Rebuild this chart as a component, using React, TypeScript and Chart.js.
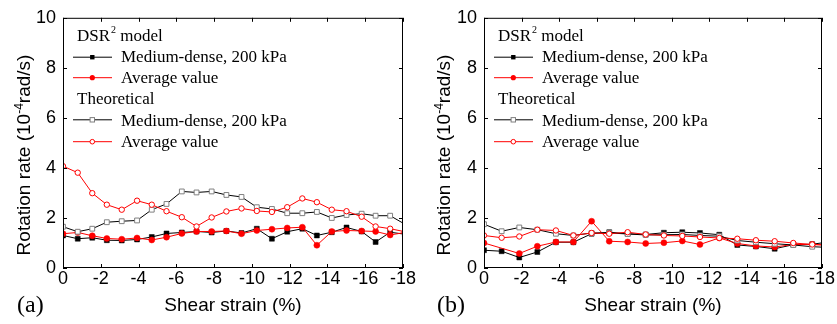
import React, { useEffect, useRef } from 'react';
import { Chart, registerables } from 'chart.js';

Chart.register(...registerables);

// ---- axis ticks ----
const xTickValues = [-18, -16, -14, -12, -10, -8, -6, -4, -2, 0];
const yTickValues = [0, 2, 4, 6, 8, 10];

// ---- panel (a) ----
const strainA = [0, -0.78, -1.55, -2.32, -3.11, -3.92, -4.7, -5.48, -6.29, -7.07, -7.87, -8.65, -9.45, -10.26, -11.06, -11.87, -12.67, -13.44, -14.23, -15.01, -15.81, -16.55, -17.32, -18.1];
const dsrDenseA = [1.3, 1.17, 1.21, 1.11, 1.1, 1.14, 1.24, 1.38, 1.42, 1.46, 1.42, 1.48, 1.4, 1.57, 1.17, 1.45, 1.57, 1.3, 1.43, 1.62, 1.46, 1.04, 1.43, 1.35];
const dsrAvgA = [1.37, 1.42, 1.29, 1.18, 1.15, 1.2, 1.12, 1.23, 1.38, 1.46, 1.46, 1.48, 1.37, 1.5, 1.55, 1.6, 1.63, 0.91, 1.46, 1.5, 1.48, 1.46, 1.32, 1.42];
const theoDenseA = [1.65, 1.45, 1.57, 1.83, 1.87, 1.9, 2.33, 2.56, 3.06, 3.02, 3.06, 2.92, 2.84, 2.43, 2.36, 2.19, 2.19, 2.24, 2.0, 2.12, 2.17, 2.09, 2.09, 1.75];
const theoAvgA = [4.07, 3.81, 2.99, 2.53, 2.33, 2.69, 2.53, 2.27, 2.03, 1.66, 2.02, 2.26, 2.38, 2.28, 2.24, 2.43, 2.78, 2.63, 2.33, 2.27, 2.05, 1.66, 1.57, 1.45];

// ---- panel (b) ----
const strainB = [0, -0.94, -1.88, -2.84, -3.83, -4.76, -5.73, -6.67, -7.65, -8.61, -9.58, -10.56, -11.5, -12.53, -13.49, -14.48, -15.48, -16.47, -17.48, -18.45];
const dsrDenseB = [0.71, 0.67, 0.42, 0.64, 1.03, 1.03, 1.37, 1.43, 1.37, 1.34, 1.41, 1.43, 1.4, 1.33, 0.92, 0.86, 0.77, 0.93, 0.95, 1.05];
const dsrAvgB = [1.0, null, 0.58, 0.87, 1.04, 1.04, 1.87, 1.07, 1.04, 0.98, 1.01, 1.08, 0.94, 1.2, 0.98, 0.88, 0.84, 0.94, 0.94, 0.92];
const theoDenseB = [1.75, 1.47, 1.62, 1.53, 1.37, 1.3, 1.4, 1.4, 1.36, 1.32, 1.33, 1.34, 1.3, 1.27, 1.1, 1.03, 0.97, 0.92, 0.85, 0.82];
const theoAvgB = [1.3, 1.21, 1.26, 1.53, 1.5, 1.3, 1.4, 1.37, 1.43, 1.34, 1.3, 1.28, 1.24, 1.2, 1.17, 1.11, 1.07, 1.0, 0.94, 0.9];

// ---- texts ----
const xTitle = 'Shear strain (%)';
const yTitleParts = ['Rotation rate (10', '-4', 'rad/s)'];
const legendHeader1 = ['DSR', '2', ' model'];
const legendHeader2 = 'Theoretical';
const legendDense = 'Medium-dense, 200 kPa';
const legendAvg = 'Average value';

const SANS = '"Liberation Sans", Arial, Helvetica, sans-serif';
const SERIF = '"Liberation Serif", "Times New Roman", serif';
const RED = '#ff0000';
const GRAY = '#808080';

function pts(xs: number[], ys: (number | null)[]) {
  return xs.map((x, i) => ({ x, y: ys[i] }));
}

const decorPlugin = {
  id: 'decor',
  afterDraw(chart: any, _args: any, opts: any) {
    const ctx = chart.ctx as CanvasRenderingContext2D;
    const { left, right, top, bottom } = chart.chartArea;
    const xs = chart.scales.x;
    const ys = chart.scales.y;
    ctx.save();
    // frame
    ctx.strokeStyle = '#000';
    ctx.lineWidth = 1;
    ctx.strokeRect(left + 0.5, top + 0.5, right - left - 1, bottom - top - 1);
    // inward ticks
    ctx.beginPath();
    const tl = 4;
    for (const v of xTickValues) {
      const px = Math.round(xs.getPixelForValue(v)) + 0.5;
      ctx.moveTo(px, bottom);
      ctx.lineTo(px, bottom - tl);
      ctx.moveTo(px, top);
      ctx.lineTo(px, top + tl);
    }
    for (const v of yTickValues) {
      const py = Math.round(ys.getPixelForValue(v)) + 0.5;
      ctx.moveTo(left, py);
      ctx.lineTo(left + tl, py);
      ctx.moveTo(right, py);
      ctx.lineTo(right - tl, py);
    }
    ctx.stroke();

    // y title (rotated, with superscript)
    ctx.save();
    ctx.translate(30, 155);
    ctx.rotate(-Math.PI / 2);
    ctx.fillStyle = '#000';
    ctx.textBaseline = 'alphabetic';
    ctx.textAlign = 'left';
    const mainFont = `19px ${SANS}`;
    const supFont = `12px ${SANS}`;
    ctx.font = mainFont;
    const w0 = ctx.measureText(yTitleParts[0]).width;
    const w2 = ctx.measureText(yTitleParts[2]).width;
    ctx.font = supFont;
    const w1 = ctx.measureText(yTitleParts[1]).width;
    let cx = -(w0 + w1 + w2) / 2;
    ctx.font = mainFont;
    ctx.fillText(yTitleParts[0], cx, 0);
    cx += w0;
    ctx.font = supFont;
    ctx.fillText(yTitleParts[1], cx, -7);
    cx += w1;
    ctx.font = mainFont;
    ctx.fillText(yTitleParts[2], cx, 0);
    ctx.restore();

    // panel label
    ctx.fillStyle = '#000';
    ctx.font = `24px ${SERIF}`;
    ctx.textAlign = 'left';
    ctx.textBaseline = 'alphabetic';
    ctx.fillText(opts.label, 17, 312);

    // legend
    const L = left;
    ctx.font = `17px ${SERIF}`;
    // header 1 with superscript
    let hx = L + 14;
    ctx.fillText(legendHeader1[0], hx, 40.7);
    hx += ctx.measureText(legendHeader1[0]).width + 1;
    ctx.font = `10px ${SERIF}`;
    ctx.fillText(legendHeader1[1], hx, 33);
    hx += ctx.measureText(legendHeader1[1]).width;
    ctx.font = `17px ${SERIF}`;
    ctx.fillText(legendHeader1[2], hx, 40.7);
    ctx.fillText(legendHeader2, L + 14, 104.3);

    const rows = [
      { ly: 57.2, by: 62.3, text: legendDense, line: '#000', kind: 'sqFill' },
      { ly: 77.7, by: 83, text: legendAvg, line: RED, kind: 'ciFill' },
      { ly: 119.8, by: 126, text: legendDense, line: '#000', kind: 'sqHollow' },
      { ly: 141.7, by: 147.3, text: legendAvg, line: RED, kind: 'ciHollow' },
    ];
    for (const r of rows) {
      ctx.strokeStyle = r.line;
      ctx.lineWidth = 1;
      ctx.beginPath();
      ctx.moveTo(L + 10, r.ly);
      ctx.lineTo(L + 49, r.ly);
      ctx.stroke();
      const mx = L + 29.3;
      if (r.kind === 'sqFill') {
        ctx.fillStyle = '#000';
        ctx.fillRect(mx - 2.2, r.ly - 2.2, 4.4, 4.4);
      } else if (r.kind === 'sqHollow') {
        ctx.fillStyle = '#fff';
        ctx.fillRect(mx - 2.2, r.ly - 2.2, 4.4, 4.4);
        ctx.strokeStyle = GRAY;
        ctx.strokeRect(mx - 2.2, r.ly - 2.2, 4.4, 4.4);
      } else if (r.kind === 'ciFill') {
        ctx.fillStyle = RED;
        ctx.beginPath();
        ctx.arc(mx, r.ly, 2.6, 0, Math.PI * 2);
        ctx.fill();
      } else {
        ctx.fillStyle = '#fff';
        ctx.strokeStyle = RED;
        ctx.beginPath();
        ctx.arc(mx, r.ly, 2.3, 0, Math.PI * 2);
        ctx.fill();
        ctx.stroke();
      }
      ctx.fillStyle = '#000';
      ctx.font = `17px ${SERIF}`;
      ctx.fillText(r.text, L + 58, r.by);
    }
    ctx.restore();
  },
};

interface PanelProps {
  label: string;
  strain: number[];
  dsrDense: (number | null)[];
  dsrAvg: (number | null)[];
  theoDense: (number | null)[];
  theoAvg: (number | null)[];
  width: number;
  padRight: number;
  yWidth: number;
}

function Panel(p: PanelProps) {
  const ref = useRef<HTMLCanvasElement>(null);
  useEffect(() => {
    const chart = new Chart(ref.current as HTMLCanvasElement, {
      type: 'line',
      data: {
        datasets: [
          {
            data: pts(p.strain, p.theoAvg),
            borderColor: RED,
            borderWidth: 1,
            pointStyle: 'circle',
            pointRadius: 2.7,
            pointBackgroundColor: '#fff',
            pointBorderColor: RED,
            pointBorderWidth: 1,
            tension: 0,
            spanGaps: true,
          },
          {
            data: pts(p.strain, p.theoDense),
            borderColor: '#000',
            borderWidth: 1,
            pointStyle: 'rect',
            pointRadius: 3.4,
            pointBackgroundColor: '#fff',
            pointBorderColor: GRAY,
            pointBorderWidth: 1,
            tension: 0,
            spanGaps: true,
          },
          {
            data: pts(p.strain, p.dsrAvg),
            borderColor: RED,
            borderWidth: 1,
            pointStyle: 'circle',
            pointRadius: 3,
            pointBackgroundColor: RED,
            pointBorderColor: RED,
            pointBorderWidth: 0.5,
            tension: 0,
            spanGaps: true,
          },
          {
            data: pts(p.strain, p.dsrDense),
            borderColor: '#000',
            borderWidth: 1,
            pointStyle: 'rect',
            pointRadius: 3.5,
            pointBackgroundColor: '#000',
            pointBorderColor: '#000',
            pointBorderWidth: 0.5,
            tension: 0,
            spanGaps: true,
          },
        ],
      },
      options: {
        animation: false,
        responsive: false,
        devicePixelRatio: 1,
        events: [],
        layout: { padding: { left: 0, right: p.padRight, top: 15, bottom: 0 } },
        plugins: {
          legend: { display: false },
          tooltip: { enabled: false },
          decor: { label: p.label },
        } as any,
        scales: {
          x: {
            type: 'linear',
            min: -18,
            max: 0,
            reverse: true,
            afterBuildTicks: (s: any) => {
              s.ticks = xTickValues.map((v) => ({ value: v }));
            },
            afterFit: (s: any) => {
              s.height = 56;
            },
            grid: { display: false, drawTicks: false },
            border: { display: false },
            ticks: {
              padding: 0,
              color: '#000',
              autoSkip: false,
              maxRotation: 0,
              font: { family: SANS, size: 18 },
              callback: (v: any) => String(Number(v) === 0 ? 0 : v),
            },
            title: {
              display: true,
              text: xTitle,
              color: '#000',
              font: { family: SANS, size: 19 },
              padding: { top: 0, bottom: 7 },
            },
          },
          y: {
            type: 'linear',
            min: 0,
            max: 10,
            afterBuildTicks: (s: any) => {
              s.ticks = yTickValues.map((v) => ({ value: v }));
            },
            afterFit: (s: any) => {
              s.width = p.yWidth;
            },
            grid: { display: false, drawTicks: false },
            border: { display: false },
            ticks: {
              padding: 7,
              color: '#000',
              font: { family: SANS, size: 18 },
              callback: (v: any) => String(v),
            },
          },
        },
      } as any,
      plugins: [decorPlugin as any],
    });
    return () => chart.destroy();
  }, []);
  return (
    <canvas
      ref={ref}
      width={p.width}
      height={324}
      style={{ display: 'block', width: p.width, height: 324 }}
    />
  );
}

export default function App() {
  return (
    <div style={{ position: 'fixed', left: 0, top: 0, width: 837, height: 324, background: '#fff', display: 'flex' }}>
      <Panel
        label="(a)"
        strain={strainA}
        dsrDense={dsrDenseA}
        dsrAvg={dsrAvgA}
        theoDense={theoDenseA}
        theoAvg={theoAvgA}
        width={420}
        padRight={17}
        yWidth={63}
      />
      <Panel
        label="(b)"
        strain={strainB}
        dsrDense={dsrDenseB}
        dsrAvg={dsrAvgB}
        theoDense={theoDenseB}
        theoAvg={theoAvgB}
        width={417}
        padRight={15}
        yWidth={64}
      />
    </div>
  );
}
